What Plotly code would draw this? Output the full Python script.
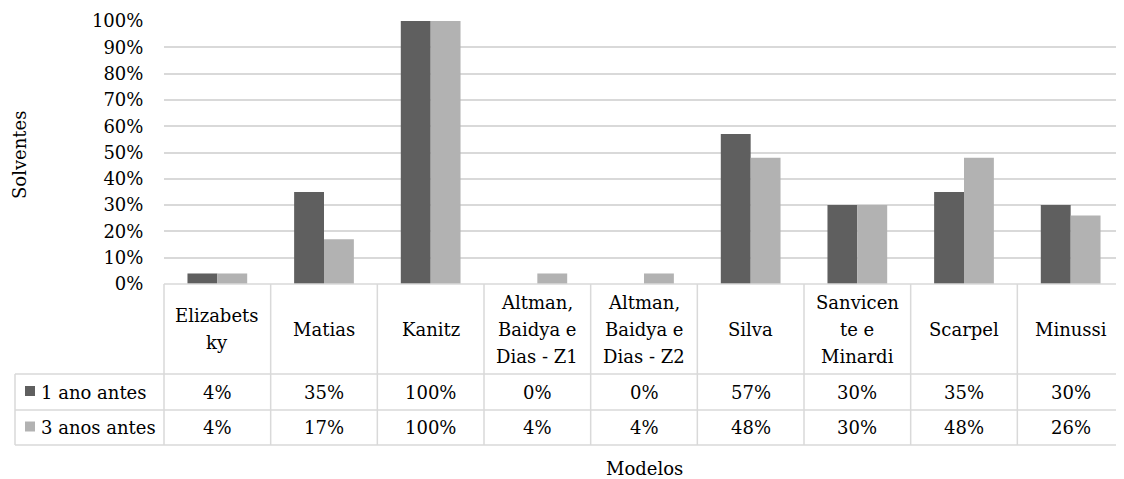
import plotly.graph_objects as go

categories = ["Elizabets\nky", "Matias", "Kanitz", "Altman,\nBaidya e\nDias - Z1",
              "Altman,\nBaidya e\nDias - Z2", "Silva", "Sanvicen\nte e\nMinardi",
              "Scarpel", "Minussi"]
series_names = ["1 ano antes", "3 anos antes"]
ano1 = [0.04, 0.35, 1.00, 0.00, 0.00, 0.57, 0.30, 0.35, 0.30]
ano3 = [0.04, 0.17, 1.00, 0.04, 0.04, 0.48, 0.30, 0.48, 0.26]
series_values = [ano1, ano3]
colors = ["#5f5f5f", "#b2b2b2"]
y_title = "Solventes"
x_title = "Modelos"

OFF = 8  # default page body margin
W, H = 1124 - OFF, 479 - OFF
L_s, T_s, B_s = 164, 21, 284
L, T = L_s - OFF, T_s - OFF
B = H - (B_s - OFF)
R = 0
pw, ph = W - L - R, (B_s - T_s)
FONT = "DejaVu Serif"
FS = 18
GRID = "#d9d9d9"
TXT = dict(family=FONT, size=FS, color="#000")


def px_x(px):
    return (px - L_s) / pw


def px_y(py):
    return (B_s - py) / ph


n = len(categories)
xs = list(range(n))

fig = go.Figure()
for name, vals, col in zip(series_names, series_values, colors):
    fig.add_trace(go.Bar(x=xs, y=vals, name=name, marker_color=col,
                         marker_line_width=0, hoverinfo="skip", showlegend=False))

shapes = []
annotations = []

row_tops = [284, 374, 410, 445]
y_rows = [px_y(v) for v in row_tops]
left_x = px_x(15)

line = dict(color=GRID, width=1.5)
shapes.append(dict(type="line", xref="paper", yref="paper", x0=0, x1=1,
                   y0=y_rows[0], y1=y_rows[0], line=line))
for yy in y_rows[1:]:
    shapes.append(dict(type="line", xref="paper", yref="paper", x0=left_x, x1=1,
                       y0=yy, y1=yy, line=line))
for i in range(n + 1):
    shapes.append(dict(type="line", xref="paper", yref="paper", x0=i / n, x1=i / n,
                       y0=y_rows[0], y1=y_rows[3], line=line))
shapes.append(dict(type="line", xref="paper", yref="paper", x0=left_x, x1=left_x,
                   y0=y_rows[1], y1=y_rows[3], line=line))

hdr_center = (row_tops[0] + row_tops[1]) / 2
lh = 27
for i, cat in enumerate(categories):
    lines = cat.split("\n")
    k = len(lines)
    for j, t in enumerate(lines):
        py = hdr_center + (j - (k - 1) / 2) * lh
        annotations.append(dict(x=(i + 0.5) / n, y=px_y(py), xref="paper", yref="paper",
                                text=t, showarrow=False, xanchor="center", yanchor="middle",
                                font=TXT))

for r, (name, vals, col) in enumerate(zip(series_names, series_values, colors)):
    top, bot = row_tops[r + 1], row_tops[r + 2]
    cy = (top + bot) / 2
    shapes.append(dict(type="rect", xref="paper", yref="paper",
                       x0=px_x(25), x1=px_x(35), y0=px_y(cy + 4), y1=px_y(cy - 6),
                       fillcolor=col, line=dict(width=0)))
    annotations.append(dict(x=px_x(39), y=px_y(cy), xref="paper", yref="paper",
                            text=name, showarrow=False, xanchor="left", yanchor="middle",
                            font=TXT))
    for i, v in enumerate(vals):
        annotations.append(dict(x=(i + 0.5) / n, y=px_y(cy), xref="paper", yref="paper",
                                text=f"{round(v * 100)}%", showarrow=False,
                                xanchor="center", yanchor="middle", font=TXT))

annotations.append(dict(x=px_x(19), y=px_y(155), xref="paper", yref="paper", text=y_title,
                        textangle=-90, showarrow=False, xanchor="center", yanchor="middle",
                        font=TXT))
annotations.append(dict(x=px_x(644), y=px_y(468), xref="paper", yref="paper", text=x_title,
                        showarrow=False, xanchor="center", yanchor="middle", font=TXT))

fig.update_layout(
    width=W, height=H,
    margin=dict(l=L, r=R, t=T, b=B, autoexpand=False),
    paper_bgcolor="white", plot_bgcolor="white",
    barmode="group", bargap=0.44, bargroupgap=0,
    font=TXT,
    shapes=shapes, annotations=annotations,
    xaxis=dict(range=[-0.5, n - 0.5], showticklabels=False, showgrid=False,
               zeroline=False, showline=False, ticks=""),
    yaxis=dict(range=[0, 1], tickvals=[i / 10 for i in range(11)], tickformat=".0%",
               showgrid=True, gridcolor=GRID, gridwidth=1.5, zeroline=False,
               showline=False, ticks="outside", ticklen=16,
               tickcolor="rgba(0,0,0,0)", tickfont=TXT),
)

fig.write_html("out.html")
